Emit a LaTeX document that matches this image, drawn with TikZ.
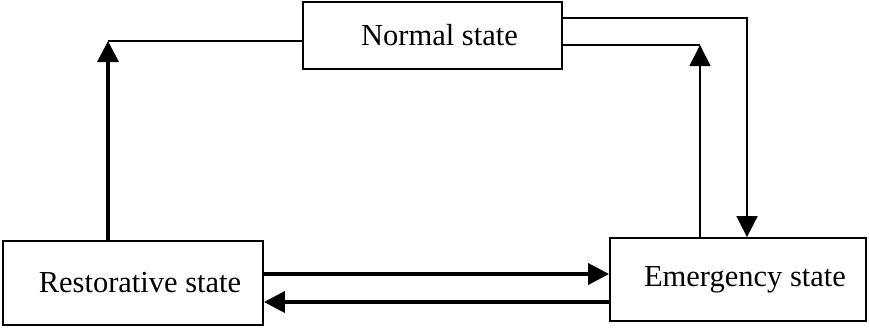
\documentclass[tikz,border=0pt]{standalone}
\usepackage{fontspec}
\setmainfont{Liberation Serif}
\usetikzlibrary{arrows.meta}
\begin{document}
\begin{tikzpicture}[x=1pt,y=-1pt,
  statebox/.style={draw, line width=1.8pt, rectangle, inner sep=0pt,
                   font=\fontsize{30.5}{33}\selectfont},
  thinline/.style={line width=1.8pt},
  thickline/.style={line width=3.6pt},
  head/.style={-{Triangle[length=21pt,width=21pt]}},
]
\useasboundingbox (0,0) rectangle (869,327);

\node[statebox, minimum width=259pt, minimum height=67pt] (N) at (432.5,35.5) {\hspace*{14pt}Normal state};
\node[statebox, minimum width=260pt, minimum height=84pt] (R) at (133,283) {\hspace*{14pt}Restorative state};
\node[statebox, minimum width=256pt, minimum height=83pt] (E) at (738,279.5) {\hspace*{14pt}Emergency state};

% bend points of the routed connectors
\coordinate (rc) at (108,41);
\coordinate (ec) at (700,45);
\coordinate (nc) at (747,18);

% restorative -> normal
\draw[thickline, head] (rc |- R.north) -- (rc);
\draw[thinline] (rc) -- (rc -| N.west);

% emergency -> normal
\draw[thinline, head] (ec |- E.north) -- (ec);
\draw[thinline] (ec) -- (ec -| N.east);

% normal -> emergency
\draw[thinline, head] (nc -| N.east) -- (nc) -- (nc |- E.north);

% restorative <-> emergency
\draw[thickline, head] (R.east |- 0,274) -- (E.west |- 0,274);
\draw[thickline, head] (E.west |- 0,302) -- (R.east |- 0,302);
\end{tikzpicture}
\end{document}
